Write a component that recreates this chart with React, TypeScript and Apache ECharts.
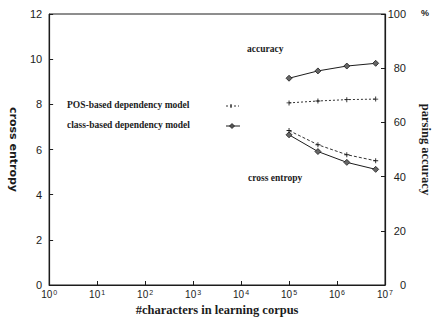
import React, { useEffect, useRef } from "react";
import * as echarts from "echarts";

const corpusSizes = [1e5, 4e5, 1.6e6, 6.4e6];
const posCrossEntropy = [6.84, 6.21, 5.77, 5.5];
const classCrossEntropy = [6.65, 5.91, 5.43, 5.12];
const posAccuracy = [67.2, 67.9, 68.4, 68.6];
const classAccuracy = [76.3, 79.0, 80.8, 81.8];

const POS_NAME = "POS-based dependency model";
const CLASS_NAME = "class-based dependency model";

const plusSymbol = "path://M-4,-0.7H4V0.7H-4Z M-0.7,-4H0.7V4H-0.7Z";
const diamondSymbol = "path://M0,-4L4,0L0,4L-4,0Z";

export default function App() {
  const ref = useRef<HTMLDivElement>(null);
  useEffect(() => {
    const chart = echarts.init(ref.current!, null, { renderer: "svg" });
    const pairs = (ys: number[]) => corpusSizes.map((x, i) => [x, ys[i]]);
    const ink = "#1c1c1c";
    const serif = "'Liberation Serif', serif";
    const sans = "Arial, 'Liberation Sans', sans-serif";
    const legendText = { fontFamily: serif, fontWeight: "bold", fontSize: 9.5, fill: ink };
    chart.setOption({
      animation: false,
      backgroundColor: "#fff",
      grid: { left: 38, right: 44, top: 14, bottom: 39, show: true, borderColor: ink, borderWidth: 1 },
      xAxis: {
        type: "log",
        logBase: 10,
        min: 1,
        max: 1e7,
        name: "#characters in learning corpus",
        nameLocation: "middle",
        nameGap: 15,
        nameTextStyle: { fontFamily: serif, fontWeight: "bold", fontSize: 12.5, color: ink },
        axisLine: { lineStyle: { color: ink, width: 1.2 } },
        axisTick: { inside: true, length: 4, lineStyle: { color: ink } },
        splitLine: { show: false },
        axisLabel: {
          margin: 4,
          formatter: (v: number) => `{b|10}{s|${Math.round(Math.log10(v))}}`,
          rich: {
            b: { fontFamily: sans, fontSize: 10, lineHeight: 10, color: ink, verticalAlign: "bottom", padding: [5, 0, 0, 0] },
            s: { fontFamily: sans, fontSize: 7, lineHeight: 7, color: ink, verticalAlign: "top", padding: [0, 0, 0, 1] },
          },
        },
      },
      yAxis: [
        {
          type: "value",
          min: 0,
          max: 12,
          interval: 2,
          name: "cross entropy",
          nameLocation: "middle",
          nameRotate: -90,
          nameGap: 24,
          nameTextStyle: { fontFamily: "'DejaVu Sans', sans-serif", fontWeight: "bold", fontSize: 11, color: ink },
          axisLine: { show: true, lineStyle: { color: ink, width: 1.2 } },
          axisTick: { show: true, inside: true, length: 4, lineStyle: { color: ink } },
          splitLine: { show: false },
          axisLabel: { margin: 7, fontFamily: sans, fontSize: 11, color: ink },
        },
        {
          type: "value",
          min: 0,
          max: 100,
          interval: 20,
          position: "right",
          name: "parsing accuracy",
          nameLocation: "middle",
          nameRotate: -90,
          nameGap: 34,
          nameTextStyle: { fontFamily: serif, fontWeight: "bold", fontSize: 12.5, color: ink },
          axisLine: { show: true, lineStyle: { color: ink, width: 1.2 } },
          axisTick: { show: true, inside: true, length: 4, lineStyle: { color: ink } },
          splitLine: { show: false },
          axisLabel: { margin: 21, align: "right", fontFamily: sans, fontSize: 11, color: ink },
        },
      ],
      graphic: [
        { type: "text", left: 421, top: 8, style: { text: "%", fontFamily: sans, fontSize: 9, fontWeight: "bold", fill: ink } },
        { type: "text", left: 247, top: 44, style: { text: "accuracy", ...legendText } },
        { type: "text", left: 248, top: 173, style: { text: "cross entropy", ...legendText } },
        { type: "text", left: 67, top: 100, style: { text: POS_NAME, ...legendText } },
        { type: "text", left: 67, top: 120, style: { text: CLASS_NAME, ...legendText } },
        { type: "line", shape: { x1: 226, y1: 106, x2: 239, y2: 106 }, style: { stroke: ink, lineWidth: 0.9, lineDash: [2, 2] } },
        { type: "line", shape: { x1: 231, y1: 104, x2: 231, y2: 108 }, style: { stroke: ink, lineWidth: 1 } },
        { type: "line", shape: { x1: 226, y1: 126, x2: 240, y2: 126 }, style: { stroke: ink, lineWidth: 1 } },
        { type: "polygon", shape: { points: [[232, 123.5], [234.5, 126], [232, 128.5], [229.5, 126]] }, style: { fill: "#555", stroke: ink, lineWidth: 0.8 } },
      ],
      series: [
        {
          name: CLASS_NAME,
          type: "line",
          yAxisIndex: 1,
          data: pairs(classAccuracy),
          symbol: diamondSymbol,
          symbolSize: 6,
          itemStyle: { color: "#666", borderColor: ink, borderWidth: 0.8 },
          lineStyle: { color: ink, width: 1, type: "solid" },
        },
        {
          name: POS_NAME,
          type: "line",
          yAxisIndex: 1,
          data: pairs(posAccuracy),
          symbol: plusSymbol,
          symbolSize: 5,
          itemStyle: { color: ink },
          lineStyle: { color: ink, width: 0.9, type: [2, 2] },
        },
        {
          name: CLASS_NAME,
          type: "line",
          yAxisIndex: 0,
          data: pairs(classCrossEntropy),
          symbol: diamondSymbol,
          symbolSize: 6,
          itemStyle: { color: "#666", borderColor: ink, borderWidth: 0.8 },
          lineStyle: { color: ink, width: 1, type: "solid" },
        },
        {
          name: POS_NAME,
          type: "line",
          yAxisIndex: 0,
          data: pairs(posCrossEntropy),
          symbol: plusSymbol,
          symbolSize: 5,
          itemStyle: { color: ink },
          lineStyle: { color: ink, width: 0.9, type: [3, 2] },
        },
      ],
    });
    return () => chart.dispose();
  }, []);
  return <div ref={ref} style={{ width: 440, height: 324, position: "absolute", left: 0, top: 0 }} />;
}
